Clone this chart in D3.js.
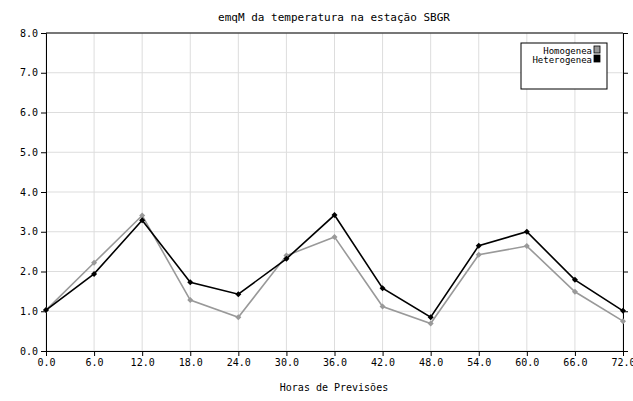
<!DOCTYPE html>
<html><head><meta charset="utf-8">
<script src="https://cdn.jsdelivr.net/npm/d3@7"></script>
<style>body{margin:0;background:#fff}text{font-family:"DejaVu Sans Mono",monospace;font-size:10px}</style>
</head><body><script>
var hours = [0, 6, 12, 18, 24, 30, 36, 42, 48, 54, 60, 66, 72];
var homogenea = [1.03, 2.22, 3.41, 1.28, 0.85, 2.40, 2.87, 1.12, 0.69, 2.42, 2.64, 1.49, 0.75];
var heterogenea = [1.03, 1.94, 3.29, 1.73, 1.43, 2.32, 3.42, 1.58, 0.85, 2.65, 3.00, 1.79, 1.01];
var yTicks = [0, 1, 2, 3, 4, 5, 6, 7, 8];

var svg = d3.select("body").append("svg").attr("width", 633).attr("height", 401);
var x = d3.scaleLinear().domain([0, 72]).range([46, 623]);
var y = d3.scaleLinear().domain([0, 8]).range([351, 33]);

// grid
svg.selectAll(".gx").data(hours).enter().append("line")
  .attr("x1", function(d){ return x(d); }).attr("x2", function(d){ return x(d); })
  .attr("y1", 33).attr("y2", 351).attr("stroke", "#ddd");
svg.selectAll(".gy").data(yTicks).enter().append("line")
  .attr("x1", 46).attr("x2", 623)
  .attr("y1", function(d){ return y(d); }).attr("y2", function(d){ return y(d); })
  .attr("stroke", "#ddd");

svg.append("line").attr("x1", 46).attr("x2", 623).attr("y1", 33).attr("y2", 33).attr("stroke", "#000");

var fmt = d3.format(".1f");
svg.append("g").attr("transform", "translate(0,351)")
  .call(d3.axisBottom(x).tickValues(hours).tickFormat(fmt).tickSize(5));
svg.append("g").attr("transform", "translate(46,0)")
  .call(d3.axisLeft(y).tickValues(yTicks).tickFormat(fmt).tickSize(5));
svg.append("g").attr("transform", "translate(623,0)")
  .call(d3.axisRight(y).tickValues(yTicks).tickFormat("").tickSize(5));
svg.selectAll(".domain").attr("stroke", "#000");
svg.selectAll(".tick text").style("font-family", '"DejaVu Sans Mono",monospace').style("font-size", "10px");

var line = d3.line().x(function(d, i){ return x(hours[i]); }).y(function(d){ return y(d); });
[[homogenea, "#999"], [heterogenea, "#000"]].forEach(function(s){
  svg.append("path").datum(s[0]).attr("d", line).attr("fill", "none").attr("stroke", s[1]).attr("stroke-width", 1.6);
  svg.selectAll(null).data(s[0]).enter().append("path")
    .attr("d", d3.symbol(d3.symbolSquare, 18))
    .attr("transform", function(d, i){ return "translate(" + x(hours[i]) + "," + y(d) + ") rotate(45)"; })
    .attr("fill", s[1]);
});

svg.append("text").attr("x", 334).attr("y", 21).attr("text-anchor", "middle").style("font-size", "11px").text("emqM da temperatura na estação SBGR");
svg.append("text").attr("x", 334).attr("y", 391).attr("text-anchor", "middle").text("Horas de Previsões");

// legend
svg.append("rect").attr("x", 521).attr("y", 43).attr("width", 86).attr("height", 46).attr("fill", "#fff").attr("stroke", "#000");
[["Homogenea", "#999"], ["Heterogenea", "#000"]].forEach(function(l, i){
  svg.append("text").attr("x", 592).attr("y", 54 + i * 9).attr("text-anchor", "end").style("font-size", "9px").text(l[0]);
  svg.append("rect").attr("x", 594).attr("y", 46 + i * 9).attr("width", 6).attr("height", 7)
    .attr("fill", l[1]).attr("stroke", "#000").attr("stroke-width", 0.8);
});
</script></body></html>
